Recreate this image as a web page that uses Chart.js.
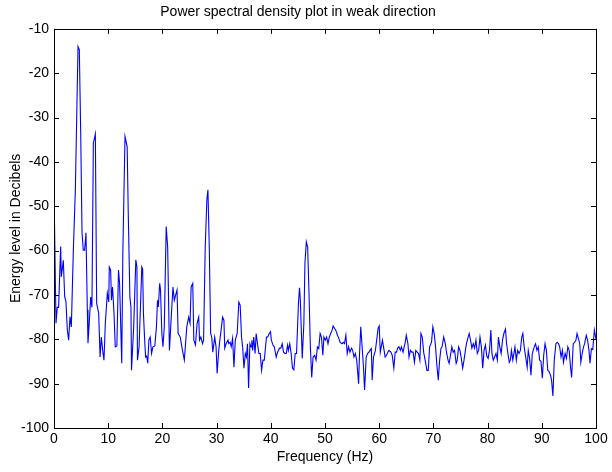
<!DOCTYPE html>
<html>
<head>
<meta charset="utf-8">
<script src="https://cdn.jsdelivr.net/npm/chart.js@4/dist/chart.umd.min.js"></script>
<style>
    html, body { margin: 0; padding: 0; background: #fff; }
    #wrap { width: 612px; height: 472px; }
</style>
</head>
<body>
<div id="wrap"><canvas id="psdChart"></canvas></div>
<script>
// Frequency (Hz) and energy level (dB)
const freqs = [
    0, 0.37, 0.6, 0.85, 1.23, 1.35, 1.72, 1.97, 2.2, 2.46, 2.7, 2.95, 3.2, 3.57, 3.94, 4.43, 4.67, 4.92, 5.17, 5.4,
    5.65, 5.9, 6.15, 6.27, 6.5, 6.77, 7.0, 7.26, 7.63, 7.87, 8.24, 8.5, 8.73, 8.98, 9.22, 9.47, 9.84, 10.1, 10.2, 10.45,
    10.6, 10.8, 11.07, 11.3, 11.6, 11.9, 12.1, 12.5, 12.7, 13.1, 13.5, 13.7, 14.0, 14.2, 14.3, 14.7, 15.1, 15.3, 15.4, 15.7,
    16.2, 16.35, 16.5, 16.7, 16.9, 17.1, 17.3, 17.5, 17.75, 18.0, 18.25, 18.6, 18.9, 19.1, 19.25, 19.5, 19.65, 19.9, 20.1, 20.35,
    20.7, 20.97, 21.3, 21.6, 21.95, 22.2, 22.45, 22.7, 22.9, 23.3, 23.7, 24.05, 24.5, 24.85, 25.1, 25.3, 25.6, 25.8, 26.1, 26.4,
    26.7, 26.85, 27.1, 27.4, 27.6, 27.9, 28.2, 28.4, 28.65, 28.9, 29.1, 29.3, 29.65, 29.9, 30.1, 30.4, 30.6, 30.9, 31.1, 31.35,
    31.5, 31.75, 32.1, 32.25, 32.5, 32.7, 32.95, 33.2, 33.45, 33.8, 34.1, 34.35, 34.6, 34.8, 35.05, 35.3, 35.5, 35.7, 35.9, 36.15,
    36.35, 36.5, 36.65, 36.85, 37.1, 37.3, 37.55, 37.8, 38.05, 38.3, 38.55, 38.8, 39.2, 39.45, 39.7, 39.95, 40.1, 40.4, 40.65, 41.0,
    41.25, 41.6, 41.85, 42.1, 42.35, 42.6, 42.85, 43.1, 43.25, 43.5, 43.75, 44.0, 44.25, 44.5, 44.75, 45.1, 45.3, 45.45, 45.8, 46.1,
    46.3, 46.55, 46.8, 47.05, 47.3, 47.55, 47.8, 48.1, 48.35, 48.6, 48.85, 49.1, 49.35, 49.6, 49.8, 50.05, 50.3, 50.55, 50.8, 51.05,
    51.3, 51.5, 51.75, 52.0, 52.3, 52.55, 52.8, 53.15, 53.35, 53.6, 53.85, 54.1, 54.35, 54.6, 54.9, 55.1, 55.35, 55.6, 55.85, 56.2,
    56.35, 56.6, 56.85, 57.1, 57.3, 57.6, 57.85, 58.1, 58.3, 58.55, 58.7, 58.95, 59.3, 59.55, 59.8, 60.0, 60.2, 60.6, 60.85, 61.1,
    61.35, 61.6, 61.8, 62.15, 62.4, 62.7, 62.95, 63.2, 63.4, 63.65, 63.9, 64.1, 64.4, 64.8, 65.0, 65.3, 65.5, 65.75, 66.0, 66.25,
    66.5, 66.75, 67.0, 67.25, 67.5, 67.7, 67.95, 68.2, 68.55, 68.8, 69.05, 69.3, 69.65, 69.9, 70.15, 70.4, 70.65, 70.9, 71.15, 71.4,
    71.6, 71.9, 72.2, 72.45, 72.7, 72.9, 73.15, 73.4, 73.65, 73.9, 74.2, 74.4, 74.65, 74.9, 75.15, 75.4, 75.65, 75.9, 76.1, 76.35,
    76.6, 76.85, 77.1, 77.35, 77.6, 77.85, 78.1, 78.35, 78.6, 78.85, 79.1, 79.35, 79.6, 79.85, 80.1, 80.35, 80.6, 80.8, 81.05, 81.3,
    81.55, 81.8, 82.0, 82.25, 82.5, 82.75, 83.0, 83.3, 83.5, 83.75, 84.0, 84.2, 84.4, 84.65, 85.05, 85.3, 85.55, 85.8, 86.05, 86.3,
    86.5, 86.75, 87.0, 87.3, 87.5, 87.75, 88.0, 88.25, 88.6, 88.85, 89.1, 89.35, 89.6, 89.85, 90.1, 90.35, 90.6, 90.85, 91.1, 91.35,
    91.6, 91.8, 92.05, 92.3, 92.6, 92.85, 93.1, 93.3, 93.55, 93.8, 94.0, 94.3, 94.55, 94.8, 95.05, 95.3, 95.5, 95.8, 96.05, 96.3,
    96.5, 96.75, 97.0, 97.2, 97.45, 97.7, 97.9, 98.2, 98.45, 98.7, 98.9, 99.15, 99.4, 99.7, 100
];
const levels = [
    -46.3, -76.4, -72.8, -72.8, -59.1, -65.9, -62.2, -70.4, -71.5, -77.9, -80.2, -74.9, -77.2, -59.9, -46.3, -14.0, -14.7, -32.8, -56, -59.9,
    -59.9, -56, -73.4, -80.9, -76.4, -70.5, -72.8, -35.8, -33.7, -71.9, -74.1, -84, -79.5, -82.5, -84.7, -76.4, -69.6, -71.6, -63.7, -64.4,
    -71.2, -68.2, -74.1, -81.7, -81.5, -64.4, -67.4, -85.4, -60.6, -34.3, -36.6, -51.5, -70.5, -72.7, -87, -77.2, -62.1, -63.7, -84.7, -81.7,
    -63.7, -64.2, -74.1, -79.5, -84, -83.8, -85.4, -80.2, -79.5, -83.2, -81.7, -81.5, -77.2, -71.2, -72.7, -67.4, -68.9, -78.7, -81.7, -77.2,
    -54.6, -59.2, -82.5, -75.7, -68.2, -71.2, -70, -68.9, -78.7, -79.5, -82.5, -84.7, -77.2, -75.0, -76.4, -68.2, -67.4, -80.2, -81.3, -76.4,
    -75, -80.2, -79.5, -81, -80.2, -59.2, -48.6, -46.3, -59.2, -78.7, -79.5, -82.9, -79.5, -81.7, -87.7, -82.5, -80.2, -77.2, -75, -75.7,
    -82, -81, -80.2, -81, -80.7, -81.7, -79.8, -86.3, -80.2, -78.7, -71.6, -72.3, -79.5, -81.7, -86.5, -83.2, -84, -81, -91, -81,
    -81.7, -80.2, -82.5, -79.5, -83.2, -78.7, -81, -83.2, -83.2, -87, -84.7, -84.7, -79.5, -79.5, -78.7, -78.3, -80.2, -81.3, -81.7, -84,
    -82.9, -82, -82, -81, -82.9, -83.2, -83.2, -81.3, -82.5, -81, -83.2, -86.5, -86.9, -83.2, -83.2, -71.9, -68.4, -71.2, -84.3, -76.4,
    -62.8, -58, -59.2, -69.6, -81.7, -88.6, -84, -83.6, -84.7, -81.7, -82.1, -78.7, -79.5, -83.6, -79.5, -80.2, -79.5, -81, -79.5, -78.7,
    -78, -77, -77.5, -78, -79.1, -79.8, -80.7, -81, -80.7, -81, -79.1, -83.2, -81.7, -82.9, -82, -82.5, -84, -83.2, -84.7, -90,
    -84, -77.2, -81.7, -86.3, -91.4, -84, -83.2, -82.9, -82.5, -82.1, -89.2, -84, -82.5, -80, -77.5, -77, -82.9, -80.2, -82.1, -84,
    -83.6, -82.9, -82.5, -82.9, -83.6, -86.5, -82.9, -82.9, -82, -81.7, -82.5, -81.7, -82.9, -80.7, -79.1, -81, -84, -82.5, -82.9, -82.9,
    -85.2, -82.5, -82.9, -83.2, -84.7, -78.7, -79.5, -82.9, -85.2, -87, -87, -81.7, -80.7, -77.2, -78.7, -81.7, -86, -89.2, -84.7, -82,
    -81.7, -79.5, -81, -83.2, -84.7, -85.4, -83.6, -81.7, -82.9, -82.5, -85.4, -84.7, -81.7, -82.5, -84.3, -86.5, -84.7, -82.5, -81, -79.8,
    -78.7, -80.2, -82, -81, -82, -80.2, -83.2, -82.5, -79.5, -81.7, -86.5, -82.5, -81.3, -83.8, -84.3, -82.5, -77.9, -83.2, -84.7, -84,
    -83.2, -84.7, -79.5, -81.7, -83.2, -80.2, -78.7, -77.7, -81, -83.2, -85.2, -84.7, -82.5, -84.7, -81.7, -84.7, -82.5, -83.2, -82.5, -79.5,
    -78.7, -81.7, -83.8, -86.3, -82.5, -84.3, -88.1, -83.2, -81.7, -81, -82.5, -81.7, -84.7, -85, -88.8, -83.6, -81, -82.5, -87, -87.3,
    -88.1, -89.2, -92.8, -84.7, -81, -80.7, -81, -81.7, -84, -82.5, -85.2, -83.2, -84.3, -81.7, -82.5, -86.3, -88.6, -81, -80.7, -80.2,
    -78.7, -79.8, -81, -85.2, -83.2, -81.7, -81, -79.1, -80.2, -82.5, -85.4, -82.1, -82.3, -77.9, -80
];

const xTicks = [0, 10, 20, 30, 40, 50, 60, 70, 80, 90, 100];
const yTicks = [-100, -90, -80, -70, -60, -50, -40, -30, -20, -10];

const font = {family: "'Liberation Sans', Arial, Helvetica, sans-serif", size: 14};

// box around the plot with inward tick marks on all four sides
const boxPlugin = {
    id: "boxTicks",
    afterDraw(chart) {
        const {ctx, chartArea: a, scales} = chart;
        const len = 5;
        ctx.save();
        ctx.strokeStyle = "#000";
        ctx.lineWidth = 1;
        ctx.strokeRect(Math.round(a.left) + 0.5, Math.round(a.top) + 0.5,
            Math.round(a.right - a.left), Math.round(a.bottom - a.top));
        ctx.beginPath();
        xTicks.forEach((v) => {
            const px = Math.round(scales.x.getPixelForValue(v)) + 0.5;
            ctx.moveTo(px, a.bottom);
            ctx.lineTo(px, a.bottom - len);
            ctx.moveTo(px, a.top);
            ctx.lineTo(px, a.top + len);
        });
        yTicks.forEach((v) => {
            const py = Math.round(scales.y.getPixelForValue(v)) + 0.5;
            ctx.moveTo(a.left, py);
            ctx.lineTo(a.left + len, py);
            ctx.moveTo(a.right, py);
            ctx.lineTo(a.right - len, py);
        });
        ctx.stroke();
        ctx.restore();
    },
};

new Chart(document.getElementById("psdChart"), {
    type: "line",
    data: {
        datasets: [
            {
                data: freqs.map((f, i) => ({x: f, y: levels[i]})),
                borderColor: "#0000ff",
                borderWidth: 1.1,
                pointRadius: 0,
                tension: 0,
                fill: false,
            },
        ],
    },
    options: {
        responsive: true,
        maintainAspectRatio: false,
        animation: false,
        layout: {padding: {left: 0, right: 16, top: 0, bottom: 0}},
        scales: {
            x: {
                type: "linear",
                min: 0,
                max: 100,
                grid: {display: false, drawTicks: false, tickLength: 0},
                border: {display: false},
                ticks: {stepSize: 10, color: "#000", font: font, padding: 3, maxRotation: 0},
                title: {display: true, text: "Frequency (Hz)", color: "#000", font: font, padding: 6},
                afterFit: (scale) => { scale.height = 44; },
            },
            y: {
                min: -100,
                max: -10,
                grid: {display: false, drawTicks: false, tickLength: 0},
                border: {display: false},
                ticks: {stepSize: 10, color: "#000", font: font, padding: 5},
                title: {display: true, text: "Energy level in Decibels", color: "#000", font: font, padding: 8},
                afterFit: (scale) => { scale.width = 54; },
            },
        },
        plugins: {
            legend: {display: false},
            tooltip: {enabled: false},
            title: {
                display: true,
                text: "Power spectral density plot in weak direction",
                color: "#000",
                font: {family: font.family, size: 14, weight: "normal"},
                padding: {top: 4, bottom: 8},
            },
        },
    },
    plugins: [boxPlugin],
});
</script>
</body>
</html>
